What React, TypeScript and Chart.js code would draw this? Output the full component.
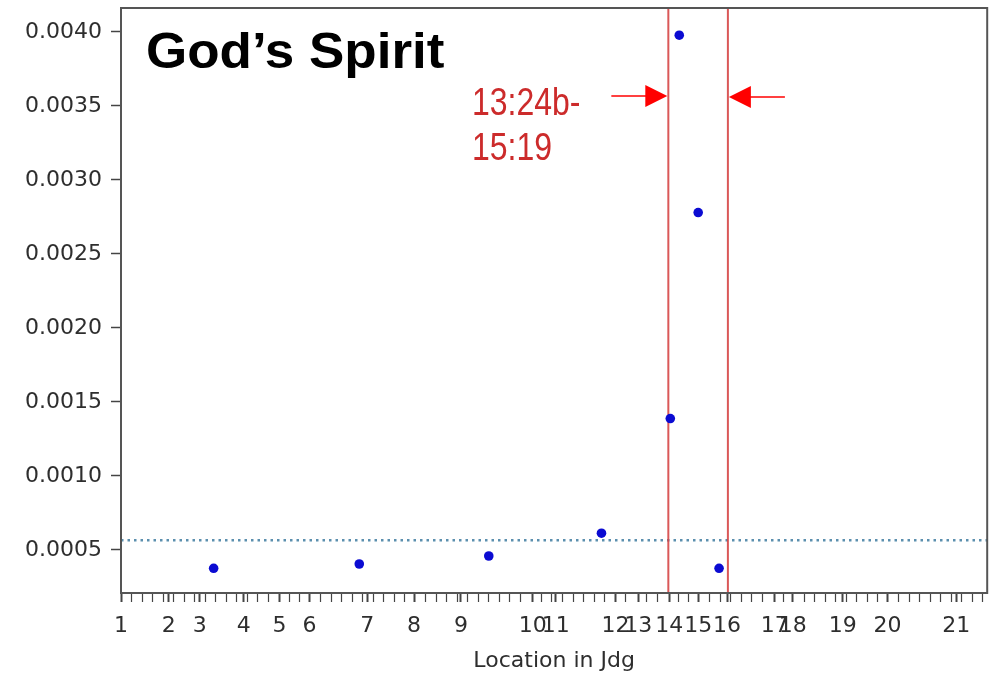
import React, { useEffect, useRef } from 'react';
import { Chart, registerables } from 'chart.js';

Chart.register(...registerables);

// ---- data ----
const chapterLabels = ['1', '2', '3', '4', '5', '6', '7', '8', '9', '10', '11', '12', '13', '14', '15', '16', '17', '18', '19', '20', '21'];
const chapterStarts = [0, 34.1, 56.2, 87.5, 113.1, 134.4, 175.7, 209.1, 242.5, 293.7, 310.1, 352.8, 369.1, 391.2, 411.8, 432.4, 466.5, 479.3, 514.9, 546.9, 596];
const locations = [66.1, 170, 262.4, 342.8, 391.9, 398.3, 411.8, 426.7];
const frequencies = [0.000376, 0.000405, 0.000459, 0.000613, 0.001388, 0.003978, 0.00278, 0.000376];
const meanFrequency = 0.000566;
const sectionBounds = [390.5, 433];
const yTickValues = [0.0005, 0.001, 0.0015, 0.002, 0.0025, 0.003, 0.0035, 0.004];
const xRange = [0, 618];
const yRange = [0.000209, 0.004162];
const minorTickStep = 7.5;
const titleText = 'God\u2019s Spirit';
const sectionText = ['13:24b-', '15:19'];
const xAxisTitle = 'Location in Jdg';

const xTickFont = { family: '"DejaVu Sans", sans-serif', size: 22 };
const yTickFont = { family: '"DejaVu Sans", sans-serif', size: 22 };
const tickColor = '#2e2e2e';
const frameColor = '#555';

const overlayPlugin = {
  id: 'overlay',
  afterDraw(chart: any) {
    const { ctx, chartArea } = chart;
    const xs = chart.scales.x;
    ctx.save();
    // frame
    ctx.strokeStyle = frameColor;
    ctx.lineWidth = 2;
    ctx.strokeRect(chartArea.left, chartArea.top, chartArea.right - chartArea.left, chartArea.bottom - chartArea.top);

    // arrows pointing at section bounds
    const drawArrow = (tipX: number, y: number, dir: number) => {
      ctx.strokeStyle = '#ff0000';
      ctx.fillStyle = '#ff0000';
      ctx.lineWidth = 1.5;
      ctx.beginPath();
      ctx.moveTo(tipX - dir * 56, y);
      ctx.lineTo(tipX - dir * 20, y);
      ctx.stroke();
      ctx.beginPath();
      ctx.moveTo(tipX, y);
      ctx.lineTo(tipX - dir * 22, y - 11);
      ctx.lineTo(tipX - dir * 22, y + 11);
      ctx.closePath();
      ctx.fill();
    };
    drawArrow(xs.getPixelForValue(sectionBounds[0]) - 1, 96, 1);
    drawArrow(xs.getPixelForValue(sectionBounds[1]) + 1, 97, -1);

    // title
    ctx.fillStyle = '#000';
    ctx.textBaseline = 'alphabetic';
    ctx.textAlign = 'left';
    ctx.font = 'bold 50px "Liberation Sans", Arial, sans-serif';
    ctx.save();
    ctx.translate(146, 68);
    ctx.scale(1.06, 1);
    ctx.fillText(titleText, 0, 0);
    ctx.restore();

    // section label (narrow)
    ctx.fillStyle = '#cc2b2b';
    ctx.font = '39px "Liberation Sans", Arial, sans-serif';
    const baselines = [115, 160];
    sectionText.forEach((t, i) => {
      ctx.save();
      ctx.translate(472, baselines[i]);
      ctx.scale(0.82, 1);
      ctx.fillText(t, 0, 0);
      ctx.restore();
    });
    ctx.restore();
  },
};

export default function App() {
  const ref = useRef<HTMLCanvasElement | null>(null);
  useEffect(() => {
    if (!ref.current) return;
    const chart = new Chart(ref.current, {
      type: 'scatter',
      data: {
        datasets: [
          {
            label: 'mean',
            data: [
              { x: xRange[0], y: meanFrequency },
              { x: xRange[1], y: meanFrequency },
            ],
            showLine: true,
            borderColor: '#5b8fae',
            borderWidth: 2.5,
            borderDash: [2.5, 4],
            pointRadius: 0,
            order: 3,
          },
          ...sectionBounds.map((b) => ({
            label: 'bound',
            data: [
              { x: b, y: yRange[0] },
              { x: b, y: yRange[1] },
            ],
            showLine: true,
            borderColor: 'rgba(214,70,70,0.9)',
            borderWidth: 2,
            pointRadius: 0,
            order: 2,
          })),
          {
            label: 'God\u2019s Spirit',
            data: locations.map((x, i) => ({ x, y: frequencies[i] })),
            backgroundColor: '#0b0bd2',
            borderWidth: 0,
            pointRadius: 4.8,
            order: 1,
          },
        ] as any,
      },
      options: {
        animation: false,
        responsive: false,
        layout: { padding: { top: 8, right: 2, left: 0, bottom: 0 } },
        plugins: { legend: { display: false }, tooltip: { enabled: false } },
        scales: {
          x: {
            type: 'linear',
            min: xRange[0],
            max: xRange[1],
            afterBuildTicks: (scale: any) => {
              const vals: number[] = [...chapterStarts];
              for (let v = xRange[0]; v <= xRange[1]; v += minorTickStep) {
                if (!chapterStarts.some((c) => Math.abs(c - v) < 2.5)) vals.push(v);
              }
              vals.sort((a, b) => a - b);
              scale.ticks = vals.map((value) => ({ value }));
            },
            afterFit: (scale: any) => {
              scale.height = 85;
              scale.paddingLeft = 0;
              scale.paddingRight = 0;
            },
            ticks: {
              autoSkip: false,
              maxRotation: 0,
              minRotation: 0,
              padding: 11,
              font: xTickFont,
              color: tickColor,
              callback: (value: any) => {
                const i = chapterStarts.indexOf(Number(value));
                return i >= 0 ? chapterLabels[i] : '';
              },
            },
            grid: {
              drawOnChartArea: false,
              drawTicks: true,
              tickLength: 9,
              tickColor: '#444',
              tickWidth: (ctx: any) => (ctx.tick && chapterStarts.includes(ctx.tick.value) ? 2 : 1.2),
            },
            border: { display: false },
            title: {
              display: true,
              text: xAxisTitle,
              font: { family: '"DejaVu Sans", sans-serif', size: 22 },
              color: tickColor,
              padding: { top: 0, bottom: 4 },
            },
          },
          y: {
            type: 'linear',
            min: yRange[0],
            max: yRange[1],
            afterBuildTicks: (scale: any) => {
              scale.ticks = yTickValues.map((value) => ({ value }));
            },
            afterFit: (scale: any) => {
              scale.width = 121;
              scale.paddingTop = 0;
              scale.paddingBottom = 0;
            },
            ticks: {
              padding: 9,
              font: yTickFont,
              color: tickColor,
              callback: (value: any) => Number(value).toFixed(4),
            },
            grid: {
              drawOnChartArea: false,
              drawTicks: true,
              tickLength: 10,
              tickColor: '#444',
              tickWidth: 1.5,
            },
            border: { display: false },
          },
        },
      } as any,
      plugins: [overlayPlugin],
    });
    return () => chart.destroy();
  }, []);

  return (
    <div style={{ position: 'fixed', left: 0, top: 0, width: 992, height: 678, background: '#fff' }}>
      <canvas ref={ref} width={992} height={678} style={{ display: 'block', width: 992, height: 678 }} />
    </div>
  );
}
